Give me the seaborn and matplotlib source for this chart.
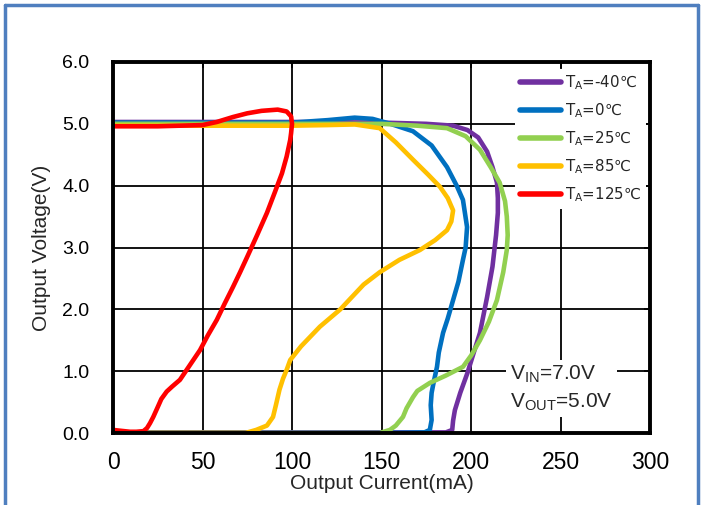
import matplotlib
matplotlib.use("Agg")
import matplotlib.pyplot as plt
import seaborn as sns
import pandas as pd
from matplotlib.lines import Line2D

# ---- data ----
labels = ["T$_\\mathregular{A}$=-40\u2103", "T$_\\mathregular{A}$=0\u2103",
          "T$_\\mathregular{A}$=25\u2103", "T$_\\mathregular{A}$=85\u2103",
          "T$_\\mathregular{A}$=125\u2103"]
colors = ["#7030a0", "#0070c0", "#92d050", "#ffc000", "#ff0000"]

i_m40 = [0, 50, 100, 150, 175, 190, 198, 204, 209, 212, 214.5, 215, 215, 214, 212, 209, 205, 201, 198, 194, 191, 190, 189.5, 186, 150, 100, 0]
v_m40 = [5.03, 5.03, 5.03, 5.02, 5.0, 4.97, 4.9, 4.78, 4.55, 4.3, 4.05, 3.8, 3.56, 3.2, 2.69, 2.2, 1.62, 1.25, 0.97, 0.65, 0.37, 0.2, 0.05, 0.01, 0.01, 0.01, 0.01]

i_0 = [0, 50, 100, 120, 135, 145, 155, 167.6, 178, 186.6, 192, 195.5, 197.8, 197, 195.5, 193, 190, 187, 184.4, 182, 181, 179, 178, 177.5, 178, 177, 174, 150, 0]
v_0 = [5.02, 5.02, 5.02, 5.06, 5.1, 5.08, 5.0, 4.88, 4.65, 4.3, 4.0, 3.77, 3.33, 3.0, 2.8, 2.45, 2.15, 1.85, 1.62, 1.3, 1.07, 0.8, 0.65, 0.45, 0.21, 0.05, 0.01, 0.0, 0.0]

i_25 = [0, 100, 150, 170, 186.6, 197, 205, 211, 216, 219, 220, 220.5, 220, 218, 214.5, 210, 205, 200, 195.5, 186, 177, 170, 167.6, 164, 162, 158, 154.7, 149, 100, 0]
v_25 = [5.0, 5.0, 5.0, 4.97, 4.93, 4.8, 4.58, 4.3, 4.05, 3.75, 3.5, 3.2, 2.96, 2.6, 2.15, 1.8, 1.5, 1.25, 1.07, 0.93, 0.81, 0.68, 0.58, 0.4, 0.26, 0.12, 0.05, 0.0, 0.0, 0.0]

i_85 = [0, 50, 100, 120, 135, 149, 158, 167.6, 176, 182.7, 187, 190, 189, 186.6, 180, 171.5, 160, 149, 140, 127, 115.6, 105, 99, 97, 95, 93, 91, 89.4, 86, 80, 74, 40, 0]
v_85 = [4.97, 4.97, 4.97, 4.98, 4.99, 4.93, 4.7, 4.42, 4.18, 3.98, 3.8, 3.6, 3.42, 3.28, 3.12, 2.96, 2.8, 2.6, 2.4, 2.0, 1.72, 1.4, 1.18, 1.02, 0.88, 0.7, 0.45, 0.26, 0.12, 0.05, 0.0, 0.0, 0.0]

i_125 = [0, 25, 50, 58, 67, 75, 83, 92, 97, 99.5, 100, 99.5, 99, 97, 94.4, 90.5, 86, 80.5, 75, 71, 67, 62.5, 58, 53, 48.6, 43, 37.4, 33, 30, 27, 25, 22.5, 20.7, 19, 17, 13, 9.5, 3, 0]
v_125 = [4.96, 4.96, 4.98, 5.03, 5.11, 5.17, 5.21, 5.23, 5.2, 5.12, 5.0, 4.85, 4.74, 4.47, 4.2, 3.9, 3.56, 3.2, 2.85, 2.6, 2.36, 2.1, 1.83, 1.58, 1.34, 1.1, 0.86, 0.75, 0.67, 0.55, 0.42, 0.26, 0.16, 0.08, 0.03, 0.02, 0.02, 0.04, 0.05]

x_ticks = [0, 50, 100, 150, 200, 250, 300]
y_ticks = [0.0, 1.0, 2.0, 3.0, 4.0, 5.0, 6.0]

series = [(i_m40, v_m40), (i_0, v_0), (i_25, v_25), (i_85, v_85), (i_125, v_125)]
frames = []
for lab, (xs, ys) in zip(labels, series):
    frames.append(pd.DataFrame({"I": xs, "V": ys, "T": lab}))
df = pd.concat(frames, ignore_index=True)

sns.set_theme(style="white")
plt.rcParams["font.family"] = ["Liberation Sans", "DejaVu Sans"]
plt.rcParams["mathtext.fontset"] = "custom"
plt.rcParams["mathtext.rm"] = "Liberation Sans"

fig = plt.figure(figsize=(7.01, 5.05), dpi=100)
ax = fig.add_axes([113 / 701, 1 - 433 / 505, (650 - 113) / 701, (433 - 62) / 505])

sns.lineplot(data=df, x="I", y="V", hue="T", hue_order=labels, palette=colors,
             sort=False, estimator=None, units="T", lw=3.3, ax=ax, legend=True)

ax.set_xlim(0, 300)
ax.set_ylim(0, 6)
ax.set_xticks(x_ticks)
ax.set_xticklabels([str(v) for v in x_ticks], fontsize=16.5)
ax.set_yticks(y_ticks)
ax.set_yticklabels([f"{v:.1f}" for v in y_ticks], fontsize=14)
ax.grid(True, color="black", lw=1.3)
ax.set_axisbelow(True)
for s in ax.spines.values():
    s.set_color("black")
    s.set_linewidth(2.8)
ax.tick_params(axis="both", direction="in", length=4, width=1.2, colors="black",
               top=True, right=True)
ax.tick_params(axis="x", pad=13)
ax.tick_params(axis="y", pad=17)
ax.set_xlabel("Output Current(mA)", fontsize=15, labelpad=0)
ax.set_ylabel("Output Voltage(V)", fontsize=15, labelpad=8)

handles, labs = ax.get_legend_handles_labels()
leg = ax.legend(handles, labs, loc="upper right", bbox_to_anchor=(0.995, 0.985),
                fontsize=10.8, frameon=True, fancybox=False, handlelength=2.75,
                handletextpad=0.3, labelspacing=0.62, borderpad=0.3,
                borderaxespad=0.1)
leg.get_frame().set_facecolor("white")
leg.get_frame().set_edgecolor("none")
leg.get_frame().set_alpha(1.0)
for t in leg.get_texts():
    t.set_math_fontfamily("dejavusans")
    t.set_family(["DejaVu Sans"])
for h in leg.legend_handles:
    h.set_linewidth(4)

ax.text(0.74, 0.12, "V$_\\mathregular{IN}$=7.0V\nV$_\\mathregular{OUT}$=5.0V",
        transform=ax.transAxes, fontsize=15, va="center", ha="left",
        linespacing=1.4,
        bbox=dict(facecolor="white", edgecolor="none", pad=3))

# blue outer border (left, top, right)
bc = "#4f7fbf"
fig.add_artist(Line2D([5 / 701, 5 / 701], [0, 1 - 5 / 505], transform=fig.transFigure, color=bc, lw=2.5))
fig.add_artist(Line2D([5 / 701, 698 / 701], [1 - 5 / 505, 1 - 5 / 505], transform=fig.transFigure, color=bc, lw=2.5))
fig.add_artist(Line2D([698 / 701, 698 / 701], [0, 1 - 5 / 505], transform=fig.transFigure, color=bc, lw=2.5))

fig.savefig("out.png", dpi=100)
